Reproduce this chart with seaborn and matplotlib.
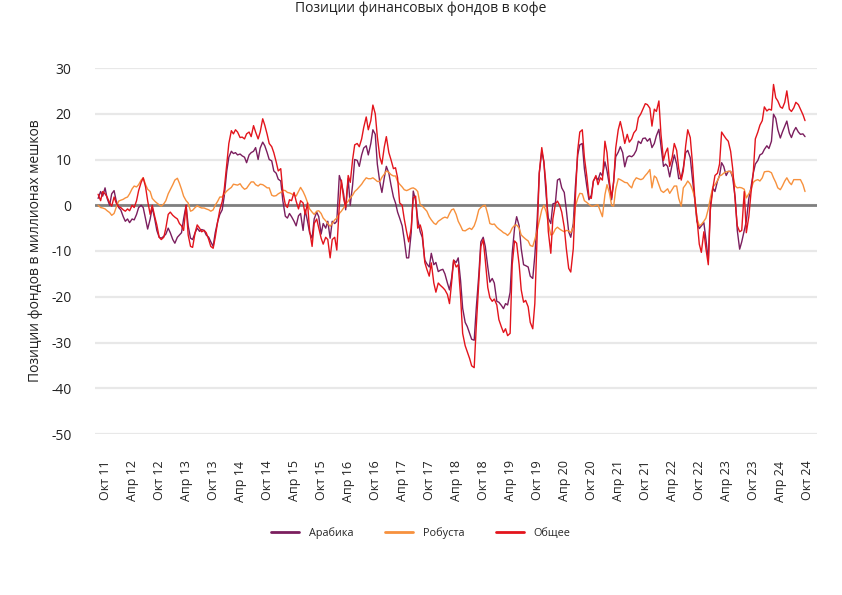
import pandas as pd
import matplotlib.pyplot as plt
import seaborn as sns

# Позиции фондов, млн мешков, значения каждые полмесяца начиная с 15.08.2011
start_date = "2011-08-15"

arabica = [
    1.5, 3.0, 2.0, 3.8, 1.5, 0.0, 2.5, 3.2, 1.0, -0.5,
    -1.0, -2.5, -3.5, -3.0, -3.8, -3.0, -3.2, -2.0, -0.5, 0.0,
    -0.5, -3.0, -5.2, -3.0, -0.5, -3.0, -5.5, -7.0, -7.2, -6.8,
    -6.3, -5.0, -6.0, -7.5, -8.3, -7.0, -6.5, -6.0, -3.0, 0.0,
    -4.5, -7.2, -7.5, -6.0, -5.0, -5.7, -5.3, -5.5, -6.5, -7.0,
    -8.0, -9.0, -6.0, -3.5, -2.0, -1.0, 2.0, 7.5, 10.5, 11.8,
    11.3, 11.5, 11.0, 11.2, 10.8, 10.5, 9.3, 11.0, 11.5, 11.8,
    12.6, 10.0, 12.5, 13.8, 13.0, 11.5, 10.0, 9.7, 7.5, 7.0,
    5.7, 5.3, 1.0, -2.4, -2.8, -1.8, -2.5, -3.5, -4.5, -2.3,
    -1.8, -5.5, -1.0, -3.5, -6.0, -7.2, -3.0, -1.5, -2.5, -6.3,
    -4.0, -5.0, -3.5, -7.2, -3.5, -4.0, -3.5, 6.5, 5.0, 2.5,
    -1.0, 5.8, 0.0, 4.5, 10.0, 9.8, 8.5, 11.0, 12.5, 13.0,
    11.0, 13.5, 16.5, 15.5, 9.0, 5.0, 2.8, 6.0, 8.5, 7.0,
    4.5, 1.8, 0.5, -1.5, -2.8, -4.5, -7.5, -11.5, -11.5, -6.0,
    3.1, 1.0, -3.0, -5.8, -7.0, -12.0, -12.8, -13.5, -10.5, -13.0,
    -12.5, -14.5, -14.2, -14.0, -15.0, -17.0, -18.5, -16.0, -12.0, -12.5,
    -11.5, -16.5, -22.5, -25.6, -26.5, -28.0, -29.3, -29.5, -22.5, -15.3,
    -8.0, -7.0, -9.0, -13.5, -16.8, -16.0, -17.0, -21.0, -21.2, -21.9,
    -22.6, -21.5, -21.8, -19.0, -10.5, -5.0, -2.5, -4.5, -9.5, -13.0,
    -13.2, -13.5, -15.5, -16.0, -11.0, -3.0, 7.0, 11.8, 9.5, 2.0,
    -2.8, -4.0, 0.3, 0.5, 5.5, 5.8, 3.8, 2.8, -1.0, -5.8,
    -7.0, -4.0, 4.0, 11.0, 13.2, 13.5, 8.0, 4.0, 1.2, 2.2,
    5.3, 6.2, 5.5, 7.1, 6.4, 9.5, 7.5, 4.2, 1.2, 5.3,
    10.6, 11.6, 12.8, 11.5, 8.4, 10.5, 10.8, 10.6, 11.0, 12.0,
    14.0, 13.5, 14.6, 14.7, 14.0, 14.6, 12.6, 13.5, 15.2, 16.6,
    13.0, 8.5, 9.0, 8.5, 6.2, 9.0, 11.0, 9.0, 5.8, 6.0,
    8.2, 11.5, 12.0, 10.4, 6.0, 1.0, -3.5, -5.1, -4.5, -3.8,
    -7.5, -12.0, 0.0, 3.8, 3.0, 5.3, 6.5, 9.3, 8.5, 6.5,
    7.4, 7.4, 6.0, 1.6, -5.5, -9.6, -8.0, -5.5, -3.5, 1.5,
    3.8, 7.0, 9.0, 9.8, 11.0, 11.3, 12.2, 13.0, 12.4, 14.0,
    19.9, 19.0, 16.5, 14.7, 16.0, 17.3, 18.4, 15.8, 14.8, 16.2,
    17.0, 16.0, 15.5, 15.6, 15.0,
]

robusta = [
    0.0, -0.5, -0.6, -0.8, -1.2, -1.6, -2.2, -1.8, -0.5, 0.9,
    1.1, 1.3, 1.6, 1.8, 2.5, 3.6, 4.2, 4.0, 4.5, 5.5,
    6.0, 4.5, 3.5, 3.0, 1.5, 0.9, 0.5, 0.1, -0.2, 0.3,
    1.0, 2.5, 3.4, 4.5, 5.5, 5.9, 4.8, 3.5, 2.0, 1.0,
    0.5, -1.3, -1.1, -0.5, -0.1, -0.4, -0.6, -0.6, -0.8, -1.0,
    -1.3, -1.0, 0.0, 0.9, 1.8, 1.8, 2.5, 3.1, 3.5, 3.9,
    4.6, 4.5, 4.4, 4.7, 4.0, 3.5, 3.7, 4.5, 5.1, 5.1,
    4.5, 4.2, 4.6, 4.5, 4.2, 3.8, 3.8, 2.2, 2.0, 2.1,
    2.5, 2.8, 3.3, 3.2, 2.8, 2.7, 2.5, 2.2, 2.0, 3.0,
    3.9, 3.0, 2.0, 0.6, -0.8, -1.5, -2.0, -1.3, -1.2, -1.8,
    -2.8, -3.4, -4.0, -4.6, -4.0, -3.2, -2.8, -1.8, -1.3, -0.6,
    0.2, 0.9, 1.6, 2.2, 3.0, 3.5, 4.0, 4.6, 5.3, 6.0,
    5.8, 5.8, 6.0, 5.6, 5.2, 5.2, 6.1, 6.8, 7.5, 7.2,
    6.7, 6.4, 6.4, 5.2, 4.6, 4.0, 3.4, 3.2, 3.4, 3.7,
    3.8, 3.5, 3.0, 0.1, -0.2, -0.8, -1.3, -2.5, -3.2, -3.9,
    -4.2, -3.5, -3.2, -2.8, -2.6, -2.8, -1.8, -1.0, -0.8, -2.0,
    -3.5, -4.5, -5.5, -5.6, -5.3, -5.0, -5.3, -4.5, -3.2, -1.0,
    -0.5, -0.1, 0.0, -2.0, -4.0, -4.2, -4.1, -4.8, -5.2, -5.6,
    -6.0, -6.2, -6.6, -6.0, -5.0, -4.4, -4.3, -5.0, -6.5, -7.0,
    -7.4, -7.8, -8.8, -9.0, -7.5, -5.5, -3.5, -1.0, 0.0, -1.5,
    -4.0, -6.5, -6.3, -5.2, -4.8, -5.2, -5.5, -5.8, -5.5, -5.6,
    -6.0, -4.8, -0.3, 1.5, 2.6, 2.5, 1.0, 0.6, 0.2, -0.2,
    -0.2, 0.0, 0.1, -1.3, -2.5, 2.3, 4.5, 2.6, 0.0, -0.2,
    3.5, 5.8, 5.6, 5.3, 5.0, 4.9, 4.3, 3.8, 5.2, 6.0,
    5.8, 5.6, 5.8, 6.5, 7.0, 7.8, 3.8, 6.4, 6.0, 4.5,
    3.2, 2.8, 3.2, 3.6, 2.6, 3.5, 4.2, 4.2, 1.5, -0.2,
    3.8, 4.5, 5.3, 4.6, 3.5, 1.6, -2.8, -4.5, -4.2, -3.5,
    -2.8, -0.8, 1.6, 4.0, 4.5, 5.4, 6.4, 6.6, 7.0, 7.3,
    7.4, 7.4, 6.5, 4.2, 3.8, 3.9, 3.8, 3.5, 1.6, 2.5,
    3.4, 5.0, 5.4, 5.6, 5.3, 6.0, 7.3, 7.4, 7.4, 7.1,
    6.0, 5.0, 3.8, 3.4, 4.2, 5.3, 6.0, 5.0, 4.5, 5.6,
    5.6, 5.6, 5.6, 4.5, 3.0,
]

total = [
    2.4, 1.0, 3.0, 2.5, 1.8, 0.5, -0.2, 1.8, 0.5, -0.3,
    -0.5, -1.0, -1.3, -0.8, -1.2, 0.0, -0.5, 1.0, 3.2, 5.0,
    6.0, 4.0, 1.0, -2.0, 0.0, -2.5, -4.3, -7.0, -7.5, -7.0,
    -5.0, -2.0, -1.5, -2.2, -2.6, -3.0, -4.0, -4.5, -5.5, 0.0,
    -6.5, -9.0, -9.2, -6.0, -4.3, -5.0, -5.8, -5.5, -6.0, -7.5,
    -9.0, -9.4, -7.0, -3.5, -1.0, 0.8, 3.5, 9.0, 13.5, 16.3,
    15.6, 16.5, 16.0, 14.8, 14.9, 14.5, 15.6, 16.0, 15.0, 17.4,
    16.0, 14.5, 16.0, 18.9, 17.5, 15.5, 13.5, 12.8, 11.5, 9.5,
    7.5, 8.0, 3.0, 0.1, -0.5, 1.2, 1.0, 2.8, 0.9, -0.8,
    1.0, 0.5, -2.0, 0.5, -5.5, -9.0, -4.0, -3.0, -5.0, -7.2,
    -8.5, -7.0, -7.5, -11.5, -7.5, -7.0, -9.8, 0.0, 5.5, 1.5,
    -0.5, 6.5, 5.0, 10.0, 13.2, 13.5, 12.8, 14.5, 17.0, 19.3,
    16.5, 18.5, 21.9, 20.0, 15.0, 10.5, 9.0, 12.7, 15.0, 11.5,
    10.0, 8.0, 8.2, 6.0, 0.5, 0.0, -3.0, -5.8, -8.0, -5.0,
    1.6, 2.0, -5.0, -4.3, -6.0, -12.5, -14.0, -15.5, -12.6, -17.0,
    -19.0, -17.0, -17.5, -18.0, -18.5, -19.5, -21.5, -17.0, -12.0, -13.5,
    -13.0, -20.0, -28.0, -30.7, -32.0, -33.5, -35.1, -35.5, -26.5, -17.0,
    -9.0, -7.5, -12.0, -18.0, -20.2, -21.0, -20.5, -21.8, -25.0, -26.6,
    -27.8, -27.0, -28.5, -28.0, -13.0, -7.8, -8.3, -13.0, -18.5, -21.2,
    -20.8, -22.2, -25.6, -27.0, -21.5, -6.0, 7.0, 12.6, 9.5, 4.0,
    -5.7, -10.5, -3.0, 0.3, 0.9, 0.0, -1.5, -4.8, -9.5, -13.8,
    -14.6, -9.5, 1.5, 12.0, 16.0, 16.5, 10.5, 6.2, 1.8, 1.5,
    5.3, 6.5, 4.5, 6.0, 5.5, 14.0, 11.5, 5.0, 1.6, 5.0,
    12.5, 16.5, 18.3, 16.0, 13.5, 15.5, 13.8, 14.5, 15.8, 16.5,
    19.1, 20.0, 21.0, 22.2, 22.0, 21.2, 17.3, 21.0, 20.5, 22.8,
    15.5, 9.8, 11.5, 12.5, 8.5, 10.5, 13.5, 12.0, 8.0, 5.5,
    7.5, 13.0, 16.5, 14.8, 9.5, 1.5, -2.8, -8.5, -10.3, -5.8,
    -9.5, -13.0, -1.0, 3.8, 6.5, 7.0, 9.0, 16.0, 15.3, 14.5,
    14.0, 11.8, 8.0, 0.9, -4.5, -5.8, -5.5, 3.0, -6.0, -2.5,
    2.5, 7.0, 14.5, 16.0, 17.5, 18.5, 21.5, 20.6, 21.0, 20.8,
    26.4, 23.5, 22.8, 21.5, 21.2, 22.5, 25.0, 21.0, 20.5, 21.3,
    22.5, 22.0, 21.0, 19.8, 18.5,
]

series_names = ["Арабика", "Робуста", "Общее"]
series_colors = ["#7b1e5e", "#f7913d", "#e3141c"]

tick_labels = [
    "Окт 11", "Апр 12", "Окт 12", "Апр 13", "Окт 13", "Апр 14", "Окт 14",
    "Апр 15", "Окт 15", "Апр 16", "Окт 16", "Апр 17", "Окт 17", "Апр 18",
    "Окт 18", "Апр 19", "Окт 19", "Апр 20", "Окт 20", "Апр 21", "Окт 21",
    "Апр 22", "Окт 22", "Апр 23", "Окт 23", "Апр 24", "Окт 24",
]
tick_dates = pd.date_range("2011-10-01", periods=len(tick_labels), freq="6MS")

# long-form table for seaborn
frames = []
for name, vals in zip(series_names, [arabica, robusta, total]):
    dates = pd.date_range(start_date, periods=len(vals), freq="SMS")
    frames.append(pd.DataFrame({"date": dates, "value": vals, "series": name}))
df = pd.concat(frames, ignore_index=True)

sns.set_style("white")
plt.rcParams["font.family"] = ["Open Sans", "DejaVu Sans"]
plt.rcParams["axes.unicode_minus"] = False

fig = plt.figure(figsize=(8.42, 5.95), dpi=100)
ax = fig.add_axes([95 / 842, 1 - 434 / 595, 722 / 842, 366 / 595])

sns.lineplot(data=df, x="date", y="value", hue="series", hue_order=series_names,
             palette=series_colors, linewidth=1.0, estimator=None, ax=ax)

ax.axhline(0, color="#7f7f7f", linewidth=2, zorder=1)
ax.set_ylim(-50, 30)
ax.set_yticks(range(-50, 31, 10))
ax.yaxis.grid(True, color="#e8e8e8", linewidth=1.6)
ax.set_axisbelow(True)

ax.set_xlim(pd.Timestamp("2011-07-25"), pd.Timestamp("2024-12-05"))
ax.set_xticks(tick_dates)
ax.set_xticklabels(tick_labels, rotation=90)

ax.tick_params(axis="x", length=0, pad=19, labelsize=9, labelcolor="#222222")
ax.tick_params(axis="y", length=0, pad=17, labelsize=10, labelcolor="#222222")
for s in ax.spines.values():
    s.set_visible(False)

ax.set_xlabel("")
ax.set_ylabel("Позиции фондов в миллионах мешков", fontsize=10, color="#222222")
ax.yaxis.set_label_coords(-0.072, 0.5)

sns.move_legend(ax, "center", bbox_to_anchor=(0.5, 1 - 533 / 595),
                bbox_transform=fig.transFigure, ncol=3, frameon=False, title=None,
                fontsize=7.8, handlelength=2.6, handletextpad=0.9, columnspacing=2.9)
for line in ax.get_legend().get_lines():
    line.set_linewidth(2)

fig.text(0.5, 1 - 9 / 595, "Позиции финансовых фондов в кофе", ha="center", va="center",
         fontsize=10, color="#222222")

fig.savefig("out.png", dpi=100)
